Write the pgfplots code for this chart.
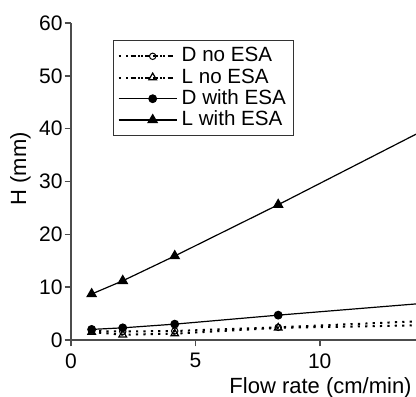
\documentclass[border=0pt]{standalone}
\usepackage{pgfplots}
\pgfplotsset{compat=1.18}
\usepackage{fontspec}
\setmainfont{Liberation Sans}
\begin{document}
\begin{tikzpicture}
\begin{axis}[
  scale only axis,
  width=172.5pt, height=158.5pt,
  xmin=0, xmax=13.87, ymin=0, ymax=60,
  axis x line=bottom, axis y line=left,
  axis line style={-, black!70, line width=1pt},
  tick style={black!70, line width=0.8pt},
  tick align=outside,
  major tick length=3.2pt,
  xtick={0,5,10}, ytick={0,10,...,60},
  ticklabel style={font=\fontsize{10.5}{12}\selectfont},
  yticklabel style={inner xsep=0.8pt},
  /pgf/number format/assume math mode=true,
  xlabel={Flow rate (cm/min)},
  ylabel={H (mm)},
  xlabel style={font=\fontsize{11}{13}\selectfont, at={(rel axis cs:1,0)}, anchor=north east, yshift=-17.8pt, xshift=-1pt, inner sep=1pt},
  ylabel style={font=\fontsize{11}{13}\selectfont, at={(ticklabel cs:0.54)}},
  ylabel shift=0pt,
  legend style={at={(rel axis cs:0.122,0.946)}, anchor=north west, draw=black!80, line width=0.6pt,
    font=\fontsize{10.3}{11}\selectfont, inner xsep=2pt, inner ysep=2.5pt, row sep=0pt,
    nodes={inner ysep=0.5pt, text height=7.6pt, text depth=2pt}, cells={anchor=west}},
  legend image code/.code={\path (0pt,0pt) -- (29pt,0pt); \draw[mark repeat=2,mark phase=2,#1] plot coordinates {(6pt,0pt) (17pt,0pt) (28pt,0pt)};},
  legend cell align=left,
]
\addplot[black, line width=1pt, dash pattern=on 1.1pt off 2.6pt, mark=o, mark size=1.6pt, mark options={solid, fill=white, line width=0.5pt}]
  coordinates {(0.83,1.7) (2.08,1.6) (4.17,1.7) (8.33,2.4) (16.67,4.1)};
\addlegendentry{D no ESA}
\addplot[black, line width=1pt, dash pattern=on 1.1pt off 2.6pt, mark=triangle, mark size=2.2pt, mark options={solid, fill=white, line width=0.6pt}]
  coordinates {(0.83,1.5) (2.08,1.0) (4.17,1.2) (8.33,2.3) (16.67,3.0)};
\addlegendentry{L no ESA}
\addplot[black, line width=0.6pt, mark=*, mark size=1.9pt, mark options={solid}]
  coordinates {(0.83,2.0) (2.08,2.3) (4.17,3.0) (8.33,4.7) (16.67,7.9)};
\addlegendentry{D with ESA}
\addplot[black, line width=0.6pt, mark=triangle*, mark size=2.6pt, mark options={solid}]
  coordinates {(0.83,8.7) (2.08,11.2) (4.17,15.9) (8.33,25.6) (16.67,45.7)};
\addlegendentry{L with ESA}
\coordinate (ll) at (rel axis cs:0,0);
\coordinate (ur) at (rel axis cs:1,1);
\end{axis}
\pgfresetboundingbox
\useasboundingbox ([shift={(-35.5pt,-28.5pt)}]ll) rectangle ([shift={(0pt,11.5pt)}]ur);
\end{tikzpicture}
\end{document}
